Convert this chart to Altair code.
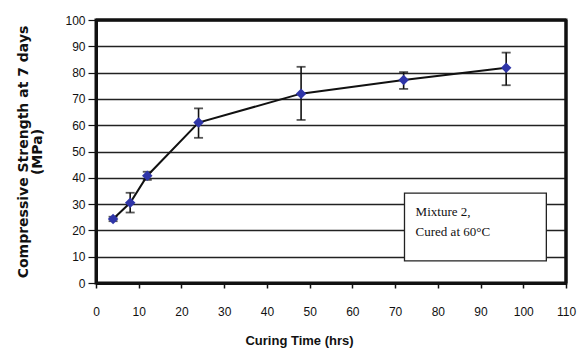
import altair as alt
import pandas as pd

hours = [4, 8, 12, 24, 48, 72, 96]
strength = [24.3, 30.5, 40.8, 61.0, 72.0, 77.2, 81.8]
err_low = [23.5, 26.8, 39.2, 55.2, 62.0, 73.8, 75.2]
err_high = [25.2, 34.3, 42.3, 66.4, 82.2, 80.2, 87.6]

x_ticks = [0, 10, 20, 30, 40, 50, 60, 70, 80, 90, 100, 110]
y_ticks = [0, 10, 20, 30, 40, 50, 60, 70, 80, 90, 100]

df = pd.DataFrame({"t": hours, "s": strength, "lo": err_low, "hi": err_high})

W, H = 470, 263
NARROW = "Liberation Sans Narrow, Arial Narrow, Liberation Sans, sans-serif"

xs = alt.Scale(domain=[0, 110], nice=False)
ys = alt.Scale(domain=[0, 100], nice=False)

x_axis = alt.Axis(
    values=x_ticks, title="Curing Time (hrs)", grid=False, labelOverlap=False,
    labelFlush=False,
    labelFont=NARROW, labelFontSize=12, labelColor="#111",
    labelPadding=18, tickSize=5, tickColor="#111", tickWidth=1.5,
    domainColor="#111", domainWidth=3,
    titleFont=NARROW, titleFontSize=13, titleFontWeight="bold",
    titleColor="#111", titlePadding=17, titleX=203,
)
y_axis = alt.Axis(
    values=y_ticks, title=["Compressive Strength at 7 days", "(MPa)"],
    grid=True, gridColor="#222", gridWidth=1.3, labelOverlap=False,
    labelFlush=False,
    labelFont="Liberation Sans, sans-serif", labelFontSize=12, labelColor="#111",
    labelPadding=3, tickSize=8, tickColor="#111", tickWidth=1.2,
    domainColor="#111", domainWidth=3,
    titleFont="DejaVu Sans", titleFontSize=14, titleFontWeight="bold",
    titleColor="#111", titlePadding=20, titleLineHeight=14,
)

base = alt.Chart(df)

line = base.mark_line(color="#111", strokeWidth=2).encode(
    x=alt.X("t:Q", scale=xs, axis=x_axis),
    y=alt.Y("s:Q", scale=ys, axis=y_axis),
)

errs = base.mark_errorbar(
    ticks={"size": 9, "thickness": 1.8, "color": "#111"},
    rule={"strokeWidth": 1.6, "color": "#111"},
).encode(
    x=alt.X("t:Q", axis=None),
    y=alt.Y("lo:Q", axis=None),
    y2="hi:Q",
)

points = base.mark_point(shape="diamond", filled=True, color="#2f35a8", size=110, opacity=1).encode(
    x=alt.X("t:Q", axis=None), y=alt.Y("s:Q", axis=None)
)

one = pd.DataFrame({"a": [0]})
top = alt.Chart(one).mark_rule(color="#111", strokeWidth=3).encode(
    y=alt.YDatum(100, axis=None)
)
right = alt.Chart(one).mark_rule(color="#111", strokeWidth=3).encode(
    x=alt.XDatum(110, axis=None)
)
box = alt.Chart(one).mark_rect(
    fill="white", stroke="#222", strokeWidth=1.3
).encode(
    x=alt.XDatum(72.2, axis=None), x2=alt.X2Datum(105.4),
    y=alt.YDatum(8.4, axis=None), y2=alt.Y2Datum(34.2),
)
txt1 = alt.Chart(one).mark_text(
    font="Liberation Serif", fontSize=13, align="left", baseline="middle", color="#111"
).encode(x=alt.XDatum(74.8, axis=None), y=alt.YDatum(27.0, axis=None), text=alt.value("Mixture 2,"))
txt2 = alt.Chart(one).mark_text(
    font="Liberation Serif", fontSize=13, align="left", baseline="middle", color="#111"
).encode(x=alt.XDatum(74.8, axis=None), y=alt.YDatum(19.4, axis=None), text=alt.value("Cured at 60°C"))

chart = alt.layer(line, errs, points, box, txt1, txt2, top, right).resolve_axis(
    x="independent", y="independent"
).properties(
    width=W, height=H,
    padding={"left": 16, "top": 14, "right": 3, "bottom": 3},
).configure_view(stroke="#111", strokeWidth=3)

chart.save("out.html", embed_options={"renderer": "svg", "actions": False})
